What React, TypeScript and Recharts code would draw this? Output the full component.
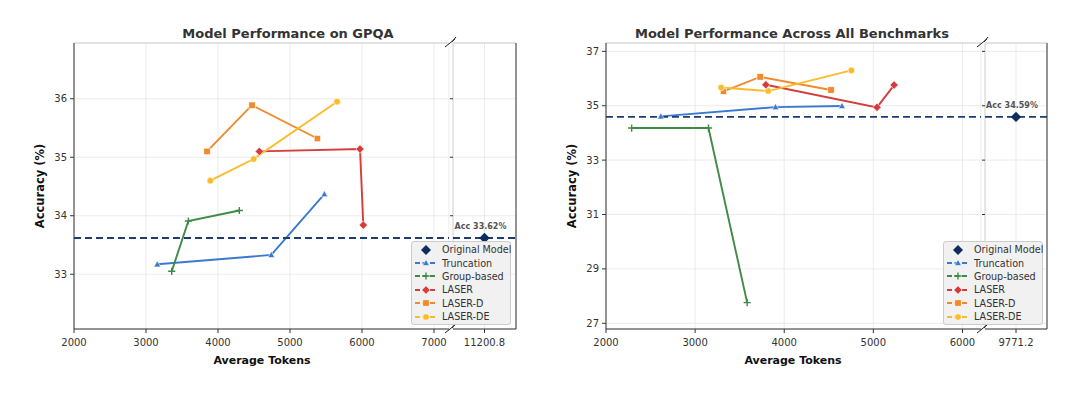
import React from 'react'
import { ComposedChart, Line, Scatter, XAxis, YAxis, CartesianGrid, ReferenceLine } from 'recharts'

// ---- data ----
const seriesNames = ['Truncation', 'Group-based', 'LASER', 'LASER-D', 'LASER-DE']
const seriesColors = ['#3a79cf', '#3f8a45', '#d53d3d', '#f08a2c', '#fbbb2a']
const seriesMarkers = ['triangle', 'plus', 'diamond', 'square', 'circle']

// GPQA: [average tokens, accuracy]
const gpqaTruncation = [[3157, 33.17], [4740, 33.33], [5477, 34.37]]
const gpqaGroup = [[3357, 33.05], [3588, 33.91], [4296, 34.09]]
const gpqaLaser = [[4574, 35.1], [5972, 35.14], [6018, 33.84]]
const gpqaLaserD = [[3847, 35.1], [4472, 35.89], [5380, 35.32]]
const gpqaLaserDE = [[3893, 34.6], [4495, 34.97], [5653, 35.95]]
const gpqaOriginal = [11200.8, 33.62]
const gpqaXTicks = [2000, 3000, 4000, 5000, 6000, 7000]
const gpqaYTicks = [33, 34, 35, 36]

// All benchmarks
const allTruncation = [[2615, 34.61], [3902, 34.95], [4648, 34.99]]
const allGroup = [[2288, 34.18], [3150, 34.18], [3584, 27.76]]
const allLaser = [[3794, 35.77], [5041, 34.94], [5233, 35.76]]
const allLaserD = [[3318, 35.53], [3730, 36.06], [4525, 35.58]]
const allLaserDE = [[3292, 35.67], [3820, 35.54], [4753, 36.3]]
const allOriginal = [9771.2, 34.59]
const allXTicks = [2000, 3000, 4000, 5000, 6000]
const allYTicks = [27, 29, 31, 33, 35, 37]

const FONT = '"DejaVu Sans", sans-serif'
const NAVY = '#0d2d5e'
const DASH = '#1d3d70'
const PLOT_TOP = 43
const PLOT_BOTTOM = 329
const H = 397

const toPts = (a: number[][]) => a.map(([x, y]) => ({ x, y }))

function markerShape(kind: string, color: string, cx: number, cy: number, key?: any) {
  if (kind === 'triangle')
    return <polygon key={key} points={`${cx},${cy - 3.6} ${cx - 3.4},${cy + 2.6} ${cx + 3.4},${cy + 2.6}`} fill={color} stroke="#fff" strokeWidth={0.6} />
  if (kind === 'plus')
    return <path key={key} d={`M${cx - 3.6},${cy}H${cx + 3.6}M${cx},${cy - 3.6}V${cy + 3.6}`} stroke={color} strokeWidth={1.4} fill="none" />
  if (kind === 'diamond')
    return <polygon key={key} points={`${cx},${cy - 4.2} ${cx + 4.2},${cy} ${cx},${cy + 4.2} ${cx - 4.2},${cy}`} fill={color} stroke="#fff" strokeWidth={0.6} />
  if (kind === 'square')
    return <rect key={key} x={cx - 3.2} y={cy - 3.2} width={6.4} height={6.4} fill={color} stroke="#fff" strokeWidth={0.6} />
  return <circle key={key} cx={cx} cy={cy} r={3.3} fill={color} stroke="#fff" strokeWidth={0.6} />
}

type PanelProps = {
  x0: number
  x1: number
  xDomain: number[]
  xTicks: number[]
  yDomain: number[]
  yTicks: number[]
  series: number[][][]
  base: number
}

function MainPanel({ x0, x1, xDomain, xTicks, yDomain, yTicks, series, base }: PanelProps) {
  const yW = 36
  const left = x0 - yW - 4
  const width = x1 - left + 2
  return (
    <div style={{ position: 'absolute', left, top: 0 }}>
      <ComposedChart width={width} height={H} margin={{ top: PLOT_TOP, right: 2, bottom: H - PLOT_BOTTOM - 30, left: 4 }}>
        <CartesianGrid stroke="#e6e6e6" strokeWidth={0.8} />
        <XAxis type="number" dataKey="x" domain={xDomain} ticks={xTicks} allowDataOverflow height={30}
          tick={{ fontSize: 10, fill: '#333', fontFamily: FONT }} tickSize={4} tickMargin={6}
          axisLine={{ stroke: '#333', strokeWidth: 1 }} tickLine={{ stroke: '#333' }} />
        <YAxis type="number" dataKey="y" domain={yDomain} ticks={yTicks} allowDataOverflow width={yW}
          tick={{ fontSize: 10, fill: '#333', fontFamily: FONT }} tickSize={4} tickMargin={3}
          axisLine={{ stroke: '#333', strokeWidth: 1 }} tickLine={{ stroke: '#333' }} />
        <ReferenceLine y={yDomain[1]} stroke="#cfcfcf" strokeWidth={1} />
        {series.map((s, i) => (
          <Line key={seriesNames[i]} data={toPts(s)} dataKey="y" stroke={seriesColors[i]} strokeWidth={1.9}
            isAnimationActive={false}
            dot={(p: any) => markerShape(seriesMarkers[i], seriesColors[i], p.cx, p.cy, p.index)} />
        ))}
        <ReferenceLine y={base} stroke={DASH} strokeWidth={1.8} strokeDasharray="7 4" />
      </ComposedChart>
    </div>
  )
}

type BreakProps = {
  x0: number
  x1: number
  value: number[]
  yDomain: number[]
  yTicks: number[]
}

function BreakPanel({ x0, x1, value, yDomain, yTicks }: BreakProps) {
  const left = x0 - 5
  const width = x1 - left + 3
  const xDomain = [value[0] - 1, value[0] + 1]
  return (
    <div style={{ position: 'absolute', left, top: 0 }}>
      <ComposedChart width={width} height={H} margin={{ top: PLOT_TOP, right: 3, bottom: H - PLOT_BOTTOM - 30, left: 1 }}>
        <CartesianGrid stroke="#e6e6e6" strokeWidth={0.8} />
        <XAxis type="number" dataKey="x" domain={xDomain} ticks={[value[0]]} allowDataOverflow height={30}
          tickFormatter={(v: number) => String(v)}
          tick={{ fontSize: 10, fill: '#333', fontFamily: FONT }} tickSize={4} tickMargin={6}
          axisLine={{ stroke: '#333', strokeWidth: 1 }} tickLine={{ stroke: '#333' }} />
        <YAxis type="number" dataKey="y" domain={yDomain} ticks={yTicks} allowDataOverflow width={4}
          tickFormatter={() => ''} tickSize={3} axisLine={false} tickLine={{ stroke: '#333' }} />
        <ReferenceLine x={xDomain[0]} stroke="#d8d8d8" strokeWidth={1} />
        <ReferenceLine y={yDomain[1]} stroke="#cfcfcf" strokeWidth={1} />
        <ReferenceLine x={xDomain[1]} stroke="#333" strokeWidth={1} />
        <ReferenceLine y={value[1]} stroke={DASH} strokeWidth={1.8} strokeDasharray="7 4" />
        <Scatter data={[{ x: value[0], y: value[1] }]} dataKey="y" isAnimationActive={false}
          shape={(p: any) => (
            <g>
              <polygon points={`${p.cx},${p.cy - 5.2} ${p.cx + 5.2},${p.cy} ${p.cx},${p.cy + 5.2} ${p.cx - 5.2},${p.cy}`} fill={NAVY} />
              <text x={p.cx - 4} y={p.cy - 9} textAnchor="middle" fontSize={8} fontWeight="bold" fill="#555" fontFamily={FONT}>
                {`Acc ${value[1].toFixed(2)}%`}
              </text>
            </g>
          )} />
      </ComposedChart>
    </div>
  )
}

function Legend({ left }: { left: number }) {
  return (
    <div style={{
      position: 'absolute', left, top: 241, width: 100, height: 84, boxSizing: 'border-box',
      background: 'rgba(240,240,240,0.92)', border: '1px solid #cccccc', borderRadius: 3,
      fontFamily: FONT, fontSize: 9.6, color: '#333', paddingTop: 1,
    }}>
      {['Original Model', ...seriesNames].map((name, i) => (
        <div key={name} style={{ display: 'flex', alignItems: 'center', height: 13.4 }}>
          <svg width={28} height={12} style={{ marginLeft: 2, flex: 'none' }}>
            {i === 0 ? (
              <polygon points="12,1 17,6 12,11 7,6" fill={NAVY} />
            ) : (
              <g>
                <line x1={1} y1={6} x2={23} y2={6} stroke={seriesColors[i - 1]} strokeWidth={1.8} strokeDasharray="5 2.5" />
                {markerShape(seriesMarkers[i - 1], seriesColors[i - 1], 12, 6)}
              </g>
            )}
          </svg>
          <span style={{ marginLeft: 0, whiteSpace: 'nowrap' }}>{name}</span>
        </div>
      ))}
    </div>
  )
}

function BreakMarks({ x }: { x: number }) {
  return (
    <g stroke="#222" strokeWidth={1}>
      <line x1={x - 6} y1={PLOT_TOP + 4} x2={x + 4} y2={PLOT_TOP - 4} />
      <line x1={x + 1} y1={PLOT_TOP - 1} x2={x + 5} y2={PLOT_TOP - 6} />
      <line x1={x - 6} y1={PLOT_BOTTOM + 4} x2={x + 4} y2={PLOT_BOTTOM - 4} />
      <line x1={x + 1} y1={PLOT_BOTTOM - 1} x2={x + 5} y2={PLOT_BOTTOM - 6} />
    </g>
  )
}

export default function App() {
  const gpqaSeries = [gpqaTruncation, gpqaGroup, gpqaLaser, gpqaLaserD, gpqaLaserDE]
  const allSeries = [allTruncation, allGroup, allLaser, allLaserD, allLaserDE]
  const midY = (PLOT_TOP + PLOT_BOTTOM) / 2
  return (
    <div style={{ position: 'absolute', left: 0, top: 0, width: 1080, height: H, background: '#fff', overflow: 'hidden' }}>
      <MainPanel x0={74} x1={449} xDomain={[2000, 7208]} xTicks={gpqaXTicks} yDomain={[32.064, 36.953]} yTicks={gpqaYTicks}
        series={gpqaSeries} base={gpqaOriginal[1]} />
      <BreakPanel x0={453} x1={516} value={gpqaOriginal} yDomain={[32.064, 36.953]} yTicks={gpqaYTicks} />
      <MainPanel x0={606} x1={981} xDomain={[2000, 6208]} xTicks={allXTicks} yDomain={[26.79, 37.307]} yTicks={allYTicks}
        series={allSeries} base={allOriginal[1]} />
      <BreakPanel x0={985} x1={1047} value={allOriginal} yDomain={[26.79, 37.307]} yTicks={allYTicks} />
      <svg width={1080} height={H} style={{ position: 'absolute', left: 0, top: 0, pointerEvents: 'none' }}>
        <g fontFamily={FONT} fill="#333" fontWeight="bold">
          <text x={288} y={38} fontSize={13} textAnchor="middle">Model Performance on GPQA</text>
          <text x={792} y={38} fontSize={13} textAnchor="middle">Model Performance Across All Benchmarks</text>
          <text x={262} y={364} fontSize={11} textAnchor="middle" fill="#111">Average Tokens</text>
          <text x={793} y={364} fontSize={11} textAnchor="middle" fill="#111">Average Tokens</text>
          <text transform={`translate(44,${midY}) rotate(-90)`} fontSize={11.5} textAnchor="middle" fill="#111">Accuracy (%)</text>
          <text transform={`translate(576,${midY}) rotate(-90)`} fontSize={11.5} textAnchor="middle" fill="#111">Accuracy (%)</text>
        </g>
        <BreakMarks x={451} />
        <BreakMarks x={983} />
      </svg>
      <Legend left={411} />
      <Legend left={943} />
    </div>
  )
}
